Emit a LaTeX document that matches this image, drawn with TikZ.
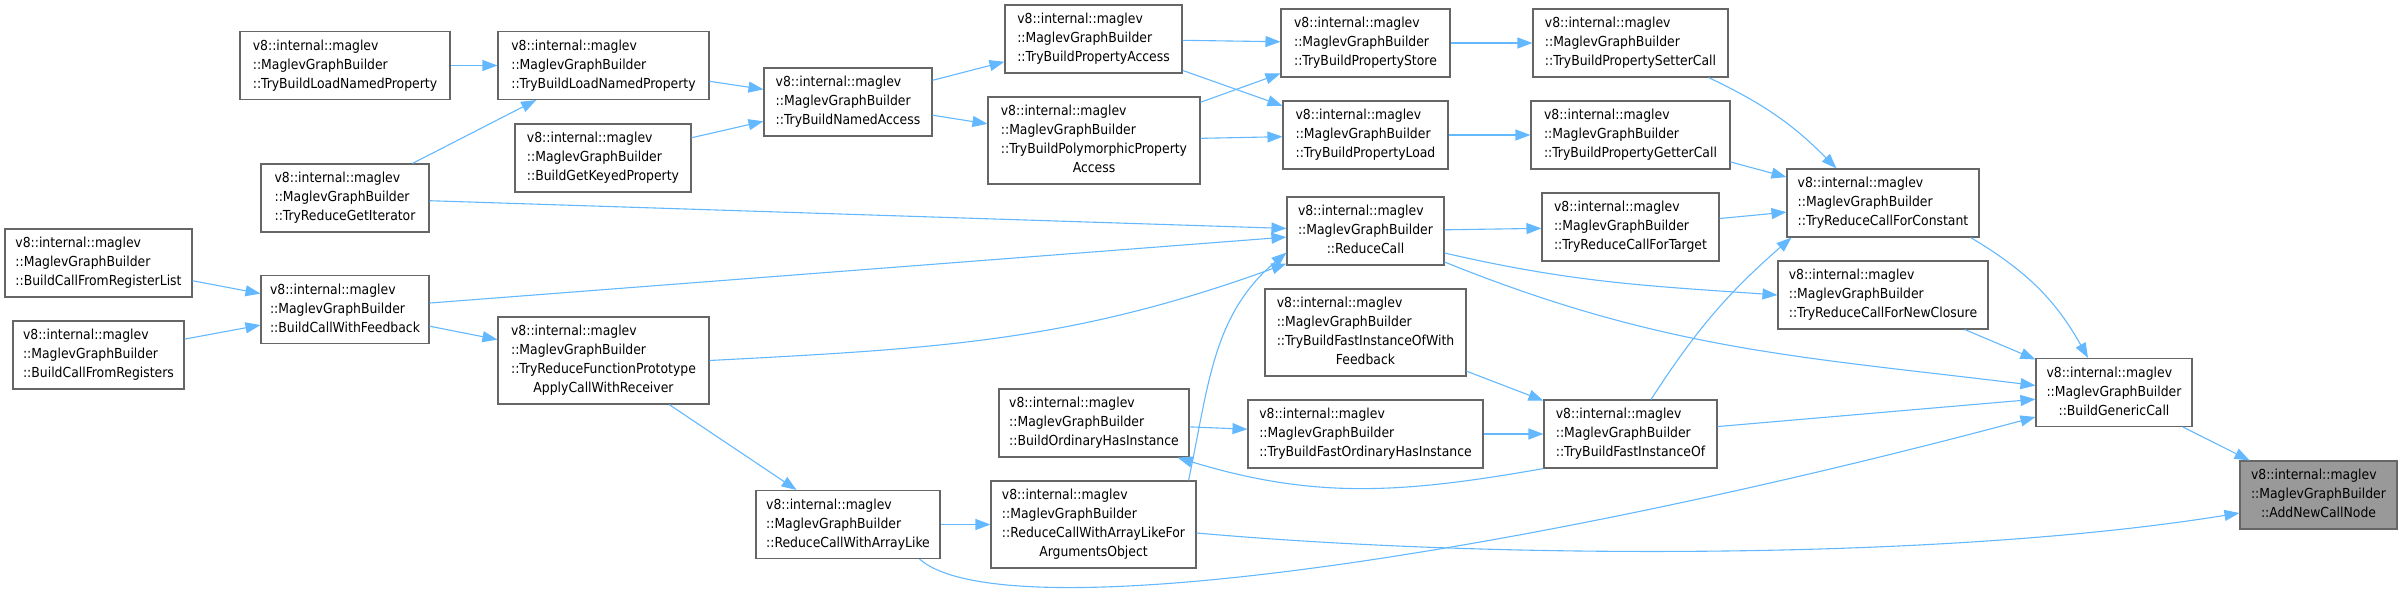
\documentclass[tikz,border=0pt]{standalone}
\usepackage{fontspec}
\setmainfont{DejaVu Sans Condensed}
\usepackage{xcolor}
\usepackage{tikz}
\usetikzlibrary{arrows.meta,calc}
\definecolor{callblue}{HTML}{63B8FF}
\definecolor{boxgray}{HTML}{666666}
\definecolor{hlgray}{HTML}{999999}
\newcommand{\mgb}[1]{\begin{tabular}{@{}l@{}}v8::internal::maglev\\::MaglevGraphBuilder\\\multicolumn{1}{@{}c@{}}{#1}\end{tabular}}
\newcommand{\mgbl}[2]{\begin{tabular}{@{}l@{}}v8::internal::maglev\\::MaglevGraphBuilder\\#1\\\multicolumn{1}{@{}c@{}}{#2}\end{tabular}}

\begin{document}
\begin{tikzpicture}[x=1pt,y=1pt,>={Triangle[length=15pt,width=11pt]},
  fn/.style={draw=boxgray,line width=1.1pt,fill=white,inner sep=0pt,minimum height=68pt,
    font=\fontsize{13.8}{19}\selectfont},
  fnl/.style={fn,minimum height=87pt},
  call/.style={->,draw=callblue,line width=1.1pt}]
\useasboundingbox (0,0) rectangle (2402,-597);
\node[fn,minimum width=187pt] (bcfrl) at (98.5,-263) {\mgb{::BuildCallFromRegisterList}};
\node[fn,minimum width=171pt] (bcfr) at (98.5,-355) {\mgb{::BuildCallFromRegisters}};
\node[fn,minimum width=210pt] (tblnpa) at (345,-65.5) {\mgb{::TryBuildLoadNamedProperty}};
\node[fn,minimum width=168pt] (trgi) at (345,-198) {\mgb{::TryReduceGetIterator}};
\node[fn,minimum width=168pt] (bcwf) at (345,-309.5) {\mgb{::BuildCallWithFeedback}};
\node[fn,minimum width=211pt] (tblnpb) at (603.5,-65.5) {\mgb{::TryBuildLoadNamedProperty}};
\node[fn,minimum width=176pt] (bgkp) at (603,-158) {\mgb{::BuildGetKeyedProperty}};
\node[fnl,minimum width=211pt] (trfpa) at (603.5,-360.5) {\mgbl{::TryReduceFunctionPrototype}{ApplyCallWithReceiver}};
\node[fn,minimum width=168pt] (tbna) at (848,-102) {\mgb{::TryBuildNamedAccess}};
\node[fn,minimum width=184pt] (rcwal) at (848,-524.5) {\mgb{::ReduceCallWithArrayLike}};
\node[fn,minimum width=177pt] (tbpa) at (1093.5,-39) {\mgb{::TryBuildPropertyAccess}};
\node[fnl,minimum width=212pt] (tbppa) at (1094,-140.5) {\mgbl{::TryBuildPolymorphicProperty}{Access}};
\node[fn,minimum width=190pt] (bohi) at (1094,-423) {\mgb{::BuildOrdinaryHasInstance}};
\node[fnl,minimum width=205pt] (rcwalfao) at (1093.5,-524.5) {\mgbl{::ReduceCallWithArrayLikeFor}{ArgumentsObject}};
\node[fn,minimum width=169pt] (tbps) at (1365.5,-43) {\mgb{::TryBuildPropertyStore}};
\node[fn,minimum width=165pt] (tbpl) at (1365.5,-135) {\mgb{::TryBuildPropertyLoad}};
\node[fn,minimum width=157pt] (rc) at (1365.5,-231) {\mgb{::ReduceCall}};
\node[fnl,minimum width=201pt] (tbfiowf) at (1365.5,-332.5) {\mgbl{::TryBuildFastInstanceOfWith}{Feedback}};
\node[fn,minimum width=235pt] (tbfohi) at (1365.5,-434) {\mgb{::TryBuildFastOrdinaryHasInstance}};
\node[fn,minimum width=195pt] (tbpsc) at (1630.5,-43) {\mgb{::TryBuildPropertySetterCall}};
\node[fn,minimum width=199pt] (tbpgc) at (1630.5,-135) {\mgb{::TryBuildPropertyGetterCall}};
\node[fn,minimum width=177pt] (trcft) at (1630.5,-227) {\mgb{::TryReduceCallForTarget}};
\node[fn,minimum width=173pt] (tbfio) at (1630.5,-434) {\mgb{::TryBuildFastInstanceOf}};
\node[fn,minimum width=192pt] (trcfc) at (1883,-203) {\mgb{::TryReduceCallForConstant}};
\node[fn,minimum width=210pt] (trcfnc) at (1883,-295) {\mgb{::TryReduceCallForNewClosure}};
\node[fn,minimum width=156pt] (bgc) at (2114,-392.5) {\mgb{::BuildGenericCall}};
\node[fn,minimum width=157pt,fill=hlgray] (ancn) at (2318.5,-495) {\mgb{::AddNewCallNode}};
\draw[call] (tblnpa) -- (tblnpb);
\draw[call] (tblnpb) -- (tbna);
\draw[call] (trgi) -- (tblnpb);
\draw[call] (bgkp) -- (tbna);
\draw[call] (trgi) -- (rc);
\draw[call] (bcfrl) -- (bcwf);
\draw[call] (bcfr) -- (bcwf);
\draw[call] (bcwf) -- (rc);
\draw[call] (bcwf) -- (trfpa);
\draw[call] (trfpa.east) to[out=3,in=200] ([yshift=2pt]rc.south west);
\draw[call] (trfpa) -- (rcwal);
\draw[call] (tbna) -- (tbpa);
\draw[call] (tbna) -- (tbppa);
\draw[call] (tbpa) -- (tbps);
\draw[call] (tbpa) -- (tbpl);
\draw[call] (tbppa) -- (tbps);
\draw[call] (tbppa) -- (tbpl);
\draw[call] (tbps) -- (tbpsc);
\draw[call] (tbpl) -- (tbpgc);
\draw[call] (rc) -- (trcft);
\draw[call] ([yshift=-22pt]rc.east) to[out=-13,in=176] (trcfnc.west);
\draw[call] ([yshift=-31pt]rc.east) to[out=-22,in=173] ([yshift=7pt]bgc.west);
\draw[call] ([xshift=-20pt]tbpsc.south east) to[bend left=10] ([xshift=50pt]trcfc.north west);
\draw[call] (tbpgc) -- (trcfc);
\draw[call] (trcft) -- (trcfc);
\draw[call] ([xshift=20.5pt]tbfio.north) to[bend left=8] ([xshift=5pt]trcfc.south west);
\draw[call] ([xshift=-9pt]trcfc.south east) to[bend left=15] ([xshift=-26pt]bgc.north);
\draw[call] (trcfnc) -- (bgc);
\draw[call] (tbfiowf) -- (tbfio);
\draw[call] (tbfohi) -- (tbfio);
\draw[call] (bohi) -- (tbfohi);
\draw[call] (tbfio.south west) to[out=190,in=-17] ([xshift=-12pt]bohi.south east);
\draw[call] (tbfio) -- (bgc);
\draw[call] (rcwal) -- (rcwalfao);
\draw[call] ([xshift=-21pt]rcwal.south east) .. controls +(81,-72) and +(-536,-143) .. ([yshift=-24.5pt]bgc.west);
\draw[call] ([xshift=-8pt]rcwalfao.north east) to[out=78,in=220] ([yshift=13pt]rc.south west);
\draw[call] ([yshift=-8.5pt]rcwalfao.east) .. controls +(304,-27) and +(-290,-47) .. ([yshift=-18pt]ancn.west);
\draw[call] (bgc) -- (ancn);
\end{tikzpicture}
\end{document}
